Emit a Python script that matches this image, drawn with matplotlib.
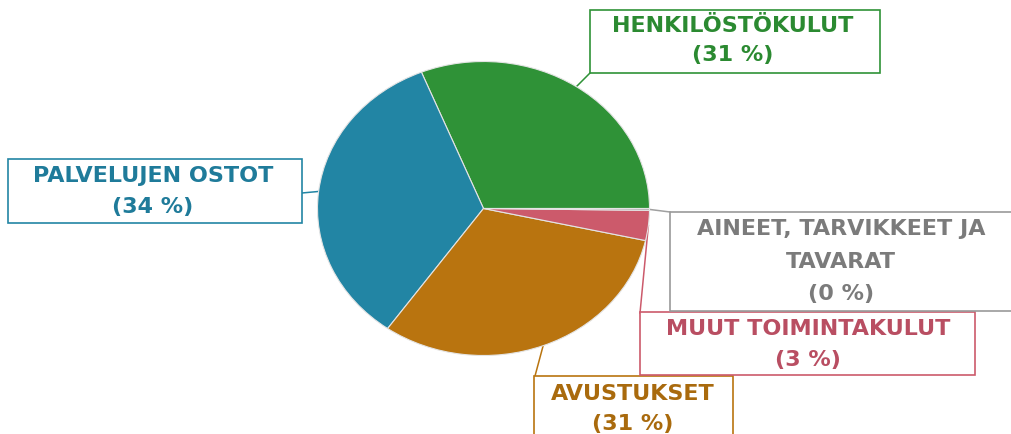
import matplotlib
matplotlib.use('Agg')
import matplotlib.pyplot as plt
from matplotlib.patches import Rectangle
import numpy as np

# ---- data ----
categories = ['HENKILÖSTÖKULUT', 'PALVELUJEN OSTOT', 'AVUSTUKSET',
              'MUUT TOIMINTAKULUT', 'AINEET, TARVIKKEET JA TAVARAT']
values = [31.1, 34.1, 31.3, 3.3, 0.2]
colors = ['#2f9237', '#2285a4', '#b9740f', '#cc5a6b', '#a9a9a9']
text_colors = ['#2b8a31', '#1f7b9a', '#a96a0d', '#b94e62', '#7b7b7b']

# ---- layout ----
W, H = 1011, 434
fig = plt.figure(figsize=(W / 100, H / 100), dpi=100)
ax = fig.add_axes([0, 0, 1, 1])
ax.set_xlim(0, W)
ax.set_ylim(H, 0)
ax.axis('off')

cx, cy, rx, ry = 483.5, 208.5, 166, 147
pax = fig.add_axes([(cx - rx) / W, (H - cy - ry) / H, 2 * rx / W, 2 * ry / H])
wedges, _ = pax.pie(values, colors=colors, startangle=0, counterclock=True,
                    radius=1, wedgeprops=dict(edgecolor='#e4e4e4', linewidth=0.8))
pax.set_aspect('auto')
pax.set_xlim(-1, 1)
pax.set_ylim(-1, 1)

# label boxes (x0, y0, x1, y1) in pixels, text centre x, baselines, leader end
boxes = [(590, 10, 880, 73), (8, 159, 302, 223), (534, 376, 733, 450),
         (640, 312, 975, 375), (670, 212, 1030, 311)]
text_x = [733, 153, 633, 808, 841]
baselines = [[32, 61], [182, 213], [400, 430], [335, 366], [235, 268, 300]]
leader_end = [(590, 73), (302, 193), (535, 376), (640, 313), (670, 212)]
wraps = [None, None, None, None, 'AINEET, TARVIKKEET JA\nTAVARAT']

total = sum(values)
cum = np.cumsum([0] + values)
for i, name in enumerate(categories):
    mid = np.deg2rad(360 * (cum[i] + cum[i + 1]) / 2 / total)
    sx, sy = cx + rx * np.cos(mid), cy - ry * np.sin(mid)
    ex, ey = leader_end[i]
    ax.plot([sx, ex], [sy, ey], color=colors[i] if i != 4 else '#a0a0a0',
            lw=1.1, zorder=1)
    x0, y0, x1, y1 = boxes[i]
    ax.add_patch(Rectangle((x0, y0), x1 - x0, y1 - y0, facecolor='white',
                           edgecolor=colors[i] if i != 4 else '#9a9a9a',
                           lw=1.2, zorder=2))
    name_lines = (wraps[i] or name).split('\n')
    lines = name_lines + [f'({values[i]:.0f} %)']
    for line, by in zip(lines, baselines[i]):
        ax.text(text_x[i], by, line, ha='center', va='baseline',
                fontsize=16, fontweight='bold', family='DejaVu Sans',
                color=text_colors[i], zorder=3)

fig.savefig('out.png', dpi=100)
